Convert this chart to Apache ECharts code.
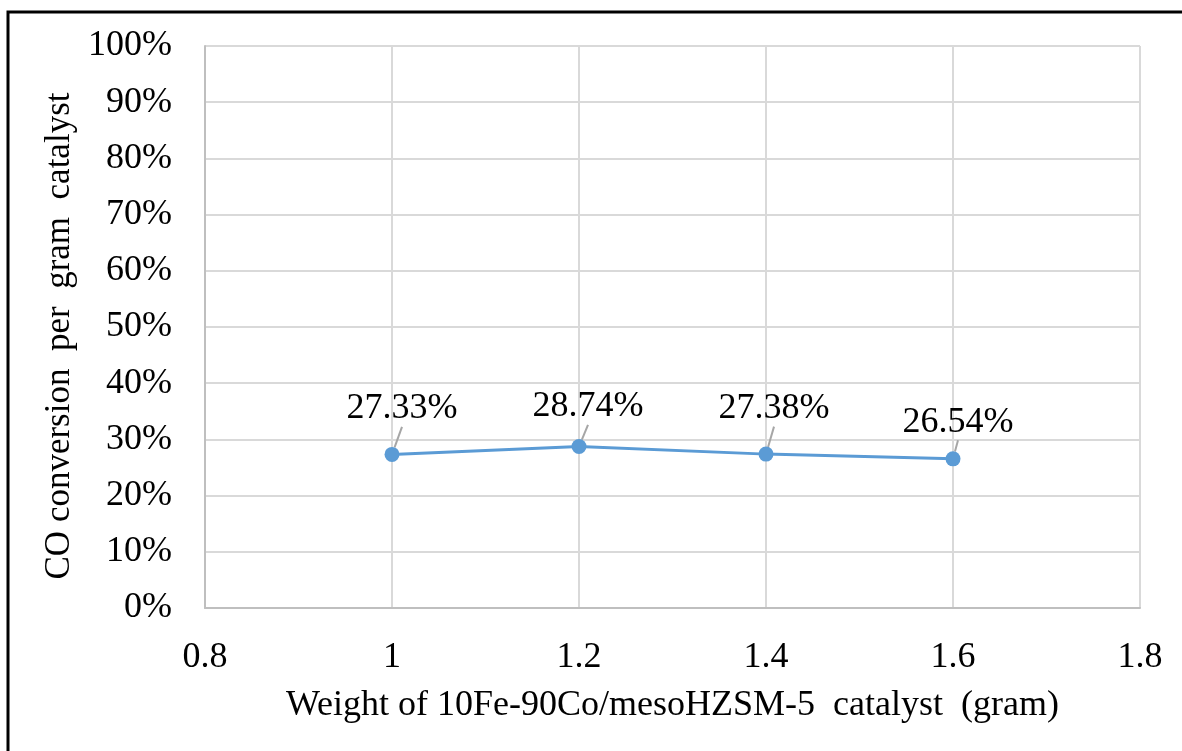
<!DOCTYPE html>
<html>
<head>
<meta charset="utf-8">
<script src="https://cdn.jsdelivr.net/npm/echarts@6/dist/echarts.min.js"></script>
<style>html,body{margin:0;padding:0;background:#fff;}#c{width:1182px;height:751px;}</style>
</head>
<body>
<div id="c"></div>
<script>
var weights = [1, 1.2, 1.4, 1.6];
var conversion = [27.33, 28.74, 27.38, 26.54];
var xTicks = [0.8, 1, 1.2, 1.4, 1.6, 1.8];
var yTicks = [0, 10, 20, 30, 40, 50, 60, 70, 80, 90, 100];
var xTitle = 'Weight of 10Fe-90Co/mesoHZSM-5  catalyst  (gram)';
var yTitle = 'CO conversion  per  gram  catalyst';

var labelShift = [[10, -15], [9, -9], [8, -15], [5, -6]];
var font = '"Liberation Serif", "Times New Roman", serif';

var chart = echarts.init(document.getElementById('c'), null, {renderer: 'canvas'});
chart.setOption({
  backgroundColor: '#fff',
  animation: false,
  textStyle: {fontFamily: font, color: '#000'},
  grid: {left: 205, right: 42, top: 46, bottom: 143},
  graphic: [{
    type: 'rect',
    shape: {x: 8, y: 12, width: 1250, height: 800},
    style: {fill: 'none', stroke: '#000', lineWidth: 3}
  }],
  xAxis: {
    type: 'value', min: xTicks[0], max: xTicks[xTicks.length - 1], interval: 0.2,
    name: xTitle, nameLocation: 'middle', nameGap: 80,
    nameTextStyle: {fontFamily: font, fontSize: 36, color: '#000'},
    axisLine: {show: true, lineStyle: {color: '#bfbfbf', width: 2}},
    axisTick: {show: false},
    axisLabel: {fontFamily: font, fontSize: 36, color: '#000', margin: 32,
      formatter: function (v) { return String(Math.round(v * 10) / 10); }},
    splitLine: {show: true, lineStyle: {color: '#d9d9d9', width: 2}}
  },
  yAxis: {
    type: 'value', min: yTicks[0], max: yTicks[yTicks.length - 1], interval: 10,
    name: yTitle, nameLocation: 'middle', nameGap: 127, nameRotate: 90,
    nameTextStyle: {fontFamily: font, fontSize: 35, color: '#000', padding: [0, 18, 0, 0]},
    axisLine: {show: true, lineStyle: {color: '#bfbfbf', width: 2}},
    axisTick: {show: false},
    axisLabel: {fontFamily: font, fontSize: 36, color: '#000', margin: 33, padding: [4, 0, 0, 0],
      formatter: '{value}%'},
    splitLine: {show: true, lineStyle: {color: '#d9d9d9', width: 2}}
  },
  series: [{
    type: 'line',
    data: weights.map(function (w, i) { return [w, conversion[i]]; }),
    symbol: 'circle', symbolSize: 15,
    itemStyle: {color: '#5b9bd5'},
    lineStyle: {color: '#5b9bd5', width: 3},
    label: {show: true, position: 'top', distance: 5, fontFamily: font, fontSize: 36, color: '#000',
      formatter: function (p) { return p.value[1].toFixed(2) + '%'; }},
    labelLine: {show: true, lineStyle: {color: '#a6a6a6', width: 2}},
    labelLayout: function (p) {
      var s = labelShift[p.dataIndex];
      return {dx: s[0], dy: s[1]};
    }
  }]
});
</script>
</body>
</html>
